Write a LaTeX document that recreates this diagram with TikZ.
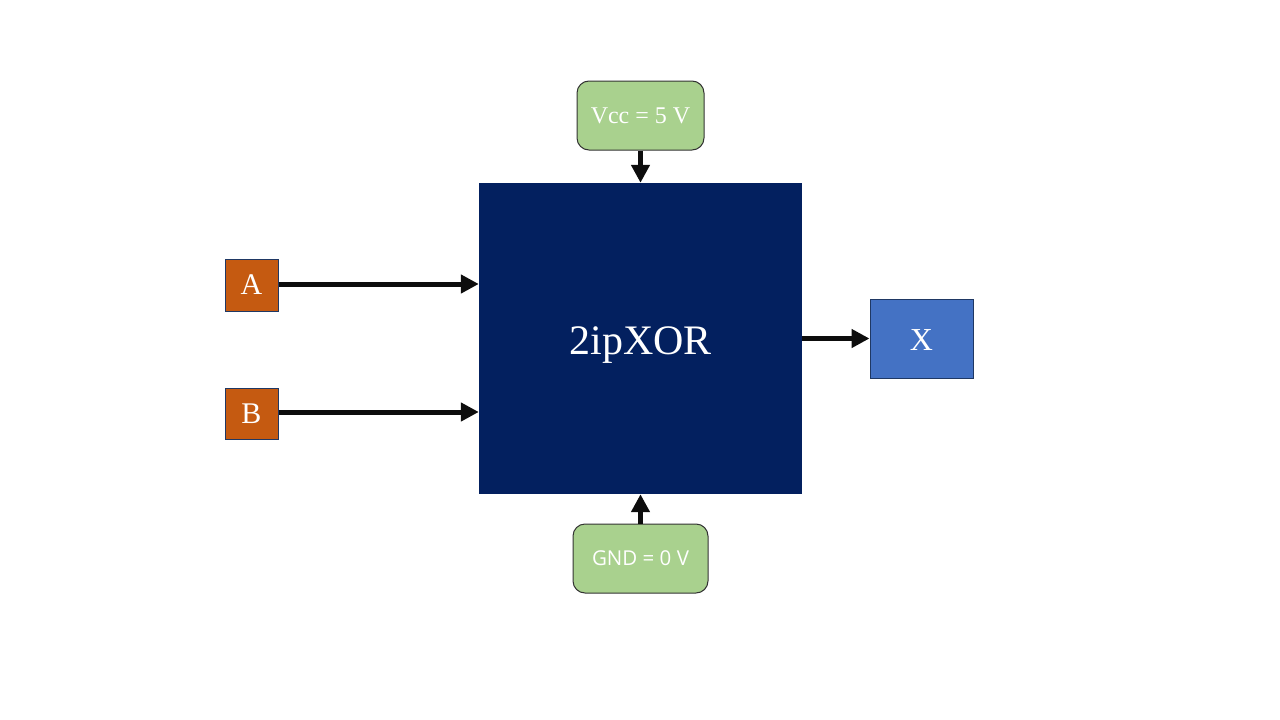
\documentclass[tikz,border=0pt]{standalone}
\usepackage{fontspec}
\setmainfont{Liberation Serif}
\newfontfamily\gndfont{Open Sans}
\usetikzlibrary{arrows.meta}
\definecolor{navy}{HTML}{03205F}
\definecolor{boxedge}{HTML}{1F3864}
\definecolor{supply}{HTML}{A9D18E}
\definecolor{inorange}{HTML}{C55A11}
\definecolor{outblue}{HTML}{4472C4}
\definecolor{wire}{HTML}{0D0D0D}
\tikzset{
  blk/.style={rectangle, inner sep=0pt, text=white, draw=boxedge, line width=1pt},
  supbox/.style={blk, fill=supply, rounded corners=12pt, draw=black!80},
  inbox/.style={blk, fill=inorange, minimum width=53pt, font=\fontsize{30}{30}\selectfont},
  wirearrow/.style={draw=wire, line width=5pt, -{Triangle[length=18pt,width=18pt]}}
}
\begin{document}
\begin{tikzpicture}[x=1pt,y=-1pt]
\useasboundingbox (0,0) rectangle (1280,720);
\node[rectangle, fill=navy, inner sep=0pt, minimum width=323pt, minimum height=311pt, text=white, text height=31pt, text depth=0pt, font=\fontsize{42}{42}\selectfont] (main) at (640.5,338.5) {2ipXOR};
\node[supbox, minimum width=127pt, minimum height=69pt, font=\fontsize{24}{24}\selectfont] (vcc) at (640.5,115.5) {Vcc = 5 V};
\node[supbox, minimum width=135pt, minimum height=69pt, font=\gndfont\fontsize{20.5}{20.5}\selectfont] (gnd) at (640.5,558.5) {GND = 0 V};
\node[inbox, minimum height=52pt] (a) at (251.5,285) {A};
\node[inbox, minimum height=51pt] (b) at (251.5,413.5) {B};
\node[blk, fill=outblue, minimum width=103pt, minimum height=79pt, text height=23pt, text depth=0pt, font=\fontsize{32}{32}\selectfont] (x) at (921.5,338.5) {X};
\draw[wirearrow] ([yshift=1pt]a.east) -- ([yshift=1pt]a.east -| main.west);
\draw[wirearrow] ([yshift=1.5pt]b.east) -- ([yshift=1.5pt]b.east -| main.west);
\draw[wirearrow] (main.east) -- (x.west);
\draw[wirearrow] (vcc.south) -- (main.north);
\draw[wirearrow] (gnd.north) -- (main.south);
\end{tikzpicture}
\end{document}
